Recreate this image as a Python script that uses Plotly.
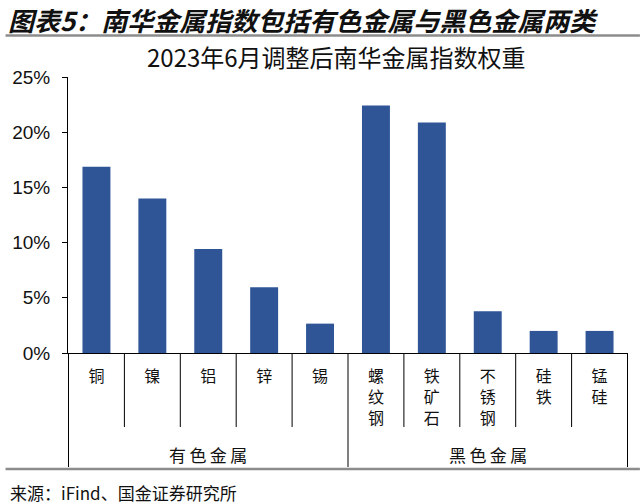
import plotly.graph_objects as go

# ---- data ----
groups = ["有色金属", "黑色金属"]
categories = ["铜", "镍", "铝", "锌", "锡", "螺纹钢", "铁矿石", "不锈钢", "硅铁", "锰硅"]
group_of = ["有色金属"] * 5 + ["黑色金属"] * 5
weights = [16.87, 14.0, 9.42, 5.96, 2.66, 22.42, 20.87, 3.78, 2.0, 2.0]
y_ticks = [0, 5, 10, 15, 20, 25]

main_title = "图表5：南华金属指数包括有色金属与黑色金属两类"
chart_title = "2023年6月调整后南华金属指数权重"
source_text = "来源：iFind、国金证券研究所"

# ---- layout geometry (pixels) ----
W_FIG, H_FIG = 640, 504
L, R, T, B = 63, 12, 77, 151
PW, PH = W_FIG - L - R, H_FIG - T - B
BASE = H_FIG - B

def px_x(px):
    return (px - L) / PW

def px_y(py):
    return (BASE - py) / PH

CJK = "Noto Sans CJK SC"
LAT = "Liberation Sans"
BAR_COLOR = "#2F5597"
THIN = "\u2009"

labels = ["<br>".join(list(c)) for c in categories]

fig = go.Figure(
    go.Bar(
        x=labels,
        y=weights,
        marker=dict(color=BAR_COLOR, line=dict(width=0)),
        hoverinfo="skip",
    )
)

fig.update_layout(
    width=W_FIG,
    height=H_FIG,
    margin=dict(l=L, r=R, t=T, b=B),
    paper_bgcolor="white",
    plot_bgcolor="white",
    bargap=0.5,
    showlegend=False,
)

fig.update_xaxes(
    type="category",
    showline=True,
    linecolor="black",
    linewidth=1,
    ticks="",
    showgrid=False,
    tickfont=dict(family=CJK, size=16, color="#111"),
    ticklabelstandoff=9,
)
fig.update_yaxes(
    range=[0, 25],
    tickvals=y_ticks,
    ticktext=[f"{v}%" for v in y_ticks],
    showline=True,
    linecolor="black",
    linewidth=1,
    ticks="outside",
    ticklen=5,
    tickcolor="black",
    showgrid=False,
    zeroline=False,
    tickfont=dict(family=LAT, size=19, color="#111"),
    ticklabelstandoff=8,
)

shapes = []
n = len(categories)
# short separators between categories
for i in range(n - 1):
    if group_of[i] != group_of[i + 1]:
        continue
    shapes.append(dict(type="line", xref="x", yref="paper",
                       x0=i + 0.5, x1=i + 0.5, y0=0, y1=px_y(427),
                       line=dict(color="black", width=1)))
# long group dividers
bounds = [-0.5] + [i + 0.5 for i in range(n - 1) if group_of[i] != group_of[i + 1]] + [n - 0.5]
for b in bounds:
    shapes.append(dict(type="line", xref="x", yref="paper",
                       x0=b, x1=b, y0=0, y1=px_y(467),
                       line=dict(color="black", width=1)))
# gray rules
for py in (35.5, 469):
    shapes.append(dict(type="line", xref="paper", yref="paper",
                       x0=px_x(0), x1=px_x(W_FIG), y0=px_y(py), y1=px_y(py),
                       line=dict(color="#8c8c8c", width=2.5)))
fig.update_layout(shapes=shapes)

annotations = []
for g in groups:
    idx = [i for i, gg in enumerate(group_of) if gg == g]
    annotations.append(dict(text=THIN.join(list(g)), xref="x", yref="paper",
                            x=sum(idx) / len(idx), y=px_y(454),
                            showarrow=False, xanchor="center", yanchor="middle",
                            font=dict(family=CJK, size=17, color="#111")))
annotations.append(dict(text=main_title, xref="paper", yref="paper",
                        x=px_x(1), y=px_y(0), showarrow=False,
                        xanchor="left", yanchor="top", borderpad=0,
                        font=dict(family=CJK, size=26, color="#111",
                                  weight="bold", style="italic")))
annotations.append(dict(text=chart_title, xref="paper", yref="paper",
                        x=px_x(334), y=px_y(56.5), showarrow=False,
                        xanchor="center", yanchor="middle",
                        font=dict(family=CJK, size=24, color="#111")))
annotations.append(dict(text=source_text, xref="paper", yref="paper",
                        x=px_x(2), y=px_y(492), showarrow=False,
                        xanchor="left", yanchor="middle",
                        font=dict(family=CJK, size=17, color="#111")))
fig.update_layout(annotations=annotations)

fig.write_html("out.html")
